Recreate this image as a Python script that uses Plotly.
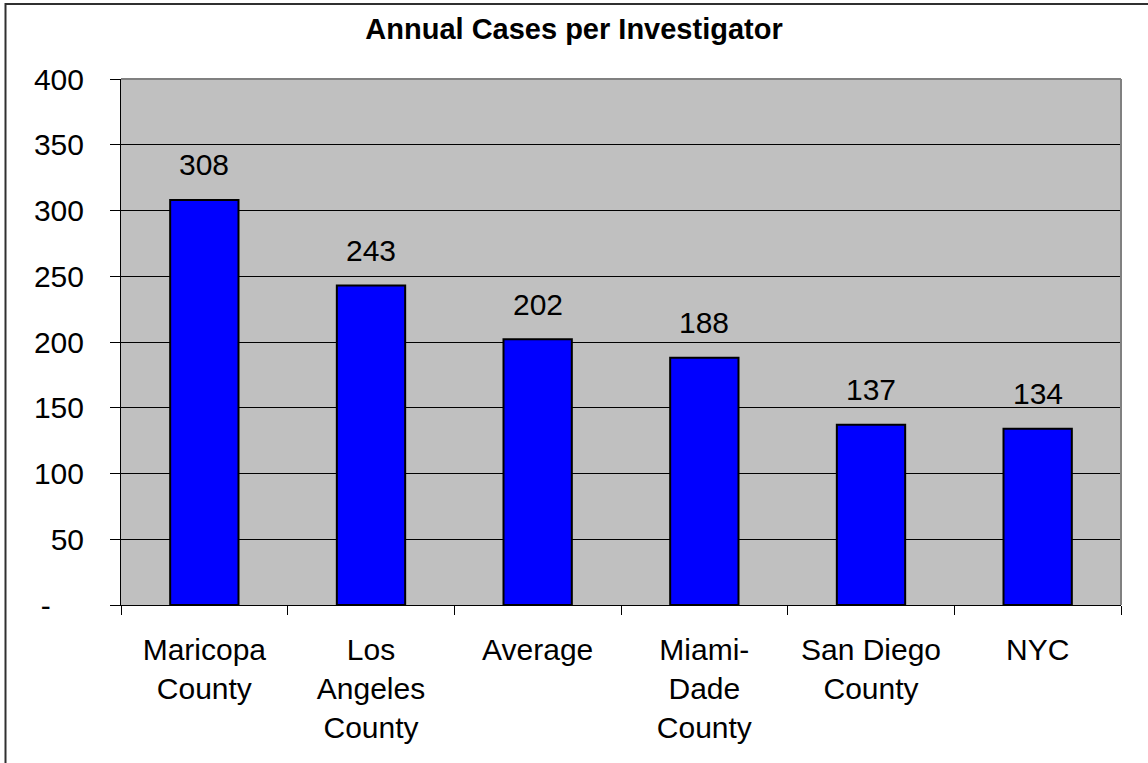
import plotly.graph_objects as go

categories = ["Maricopa<br>County", "Los<br>Angeles<br>County", "Average", "Miami-<br>Dade<br>County", "San Diego<br>County", "NYC"]
values = [308, 243, 202, 188, 137, 134]
y_tickvals = [0, 50, 100, 150, 200, 250, 300, 350, 400]
y_ticktext = ["-\u00a0\u00a0\u00a0\u00a0", "50", "100", "150", "200", "250", "300", "350", "400"]
title_text = "Annual Cases per Investigator"

FONT = "Arial, 'Liberation Sans', sans-serif"

fig = go.Figure()
fig.add_trace(go.Bar(
    x=categories, y=values, width=0.41,
    marker=dict(color="#0000FF", line=dict(color="black", width=2)),
    showlegend=False, hoverinfo="skip"
))

for c, v in zip(categories, values):
    fig.add_annotation(x=c, y=v, text=str(v), showarrow=False, yshift=35,
                       font=dict(family=FONT, size=30, color="black"))

fig.update_layout(
    width=1148, height=763,
    margin=dict(l=121, r=27, t=79, b=158),
    paper_bgcolor="white", plot_bgcolor="#C0C0C0",
    font=dict(family=FONT, size=30, color="black"),
    title=dict(text="<b>" + title_text + "</b>", x=0.5, xanchor="center",
               y=1 - 29 / 763, yanchor="middle",
               font=dict(family=FONT, size=29, color="black")),
)

fig.update_xaxes(
    type="category", showgrid=False, ticks="outside", ticklen=9, tickwidth=1,
    tickcolor="black", tickson="boundaries", showline=True, linecolor="black",
    linewidth=1, tickfont=dict(size=30), ticklabelstandoff=18,
)
fig.update_yaxes(
    range=[0, 400], tickmode="array", tickvals=y_tickvals, ticktext=y_ticktext,
    showgrid=True, gridcolor="black", gridwidth=1, zeroline=False,
    ticks="outside", ticklen=10, tickcolor="black", showline=True,
    linecolor="black", linewidth=1, tickfont=dict(size=30),
    ticklabelstandoff=20,
)

# plot area border (gray top & right)
fig.add_shape(type="line", xref="paper", yref="paper", x0=0, x1=1, y0=1, y1=1,
              line=dict(color="#808080", width=2), layer="above")
fig.add_shape(type="line", xref="paper", yref="paper", x0=1, x1=1, y0=0, y1=1,
              line=dict(color="#808080", width=2), layer="above")
# outer chart border (extends past the right and bottom edges)
fig.add_shape(type="rect", xref="paper", yref="paper",
              x0=-0.1155, x1=1.05, y0=-0.35, y1=(605 - 4) / 526,
              line=dict(color="#303030", width=2), fillcolor="rgba(0,0,0,0)", layer="above")

fig.write_html("out.html", config={"displayModeBar": False},
               post_script="document.body.style.margin='0';document.body.style.overflow='hidden';")
